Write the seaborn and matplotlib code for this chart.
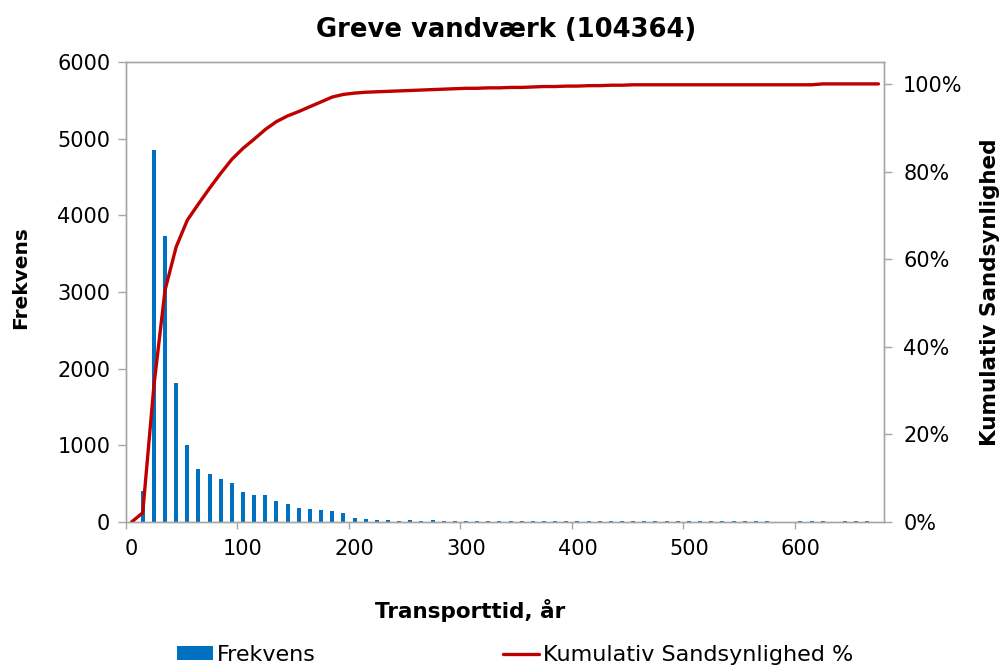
import matplotlib
matplotlib.use("Agg")
import matplotlib.pyplot as plt
from matplotlib.ticker import FixedLocator, FuncFormatter
from matplotlib.patches import Patch
from matplotlib.lines import Line2D
import seaborn as sns
import pandas as pd

# ---------------- data ----------------
transport_years = list(range(0, 680, 10))  # 0 .. 670

frekvens = [
    0, 400, 4850, 3730, 1815, 1005, 690, 620, 560, 515,
    390, 350, 350, 270, 240, 180, 170, 155, 145, 120,
    55, 35, 24, 20, 16, 24, 16, 24,
    14, 12, 15, 13, 14, 12, 14, 13, 15, 12,
    14, 13, 12, 14, 13, 12, 14, 13, 12, 14,
    13, 12, 14, 13, 12, 14, 13, 12, 14, 13,
    0, 0, 14, 13, 14, 0, 14, 13, 14, 0,
]

kumulativ_pct = [
    0.0, 2.1, 31.0, 52.9, 62.8, 68.9, 72.6, 76.2, 79.6, 82.8,
    85.3, 87.4, 89.6, 91.4, 92.7, 93.7, 94.8, 95.9, 97.0, 97.6,
    97.9, 98.1, 98.2,
    98.3, 98.4, 98.5, 98.6, 98.7, 98.8, 98.9, 99.0, 99.0, 99.1,
    99.1, 99.2, 99.2, 99.3, 99.4, 99.4, 99.5, 99.5, 99.6, 99.6,
    99.7, 99.7, 99.8,
    99.8, 99.8, 99.8, 99.8, 99.8, 99.8, 99.8, 99.8, 99.8, 99.8,
    99.8, 99.8, 99.8, 99.8, 99.8, 99.8,
    100.0, 100.0, 100.0, 100.0, 100.0, 100.0,
]

title = "Greve vandværk (104364)"
x_label = "Transporttid, år"
y_label_left = "Frekvens"
y_label_right = "Kumulativ Sandsynlighed"
legend_bar = "Frekvens"
legend_line = "Kumulativ Sandsynlighed %"

df = pd.DataFrame({"aar": transport_years, "frekvens": frekvens, "kum": kumulativ_pct})

# ---------------- style ----------------
sns.set_style("white")
plt.rcParams["font.family"] = ["DejaVu Sans"]
plt.rcParams["text.color"] = "black"
plt.rcParams["axes.labelcolor"] = "black"
plt.rcParams["xtick.color"] = "black"
plt.rcParams["ytick.color"] = "black"

BAR_BLUE = "#0070C0"
LINE_RED = "#C00000"
GRID_GRAY = "#A6A6A6"

W, H = 1005, 669
fig = plt.figure(figsize=(W / 100, H / 100), dpi=100)
left, right, top, bottom = 126, 884, 62, 522
ax = fig.add_axes([left / W, 1 - bottom / H, (right - left) / W, (bottom - top) / H])

sns.barplot(data=df, x="aar", y="frekvens", native_scale=True, width=0.36,
            color=BAR_BLUE, saturation=1, ax=ax, linewidth=0)

ax.set_xlim(-5, 675)
ax.set_ylim(0, 6000)
ax.set_yticks(range(0, 6001, 1000))
ax.xaxis.set_major_locator(FixedLocator(list(range(0, 601, 100))))
ax.xaxis.set_minor_locator(FixedLocator([-5, 95, 195, 295, 395, 495, 595]))
ax.tick_params(axis="x", which="major", length=0, labelsize=15, pad=12,
               labelcolor="black")
ax.tick_params(axis="x", which="minor", length=5, width=1, color=GRID_GRAY,
               direction="out", bottom=True)
ax.tick_params(axis="y", which="major", length=5.8, width=1, color=GRID_GRAY,
               direction="out", labelsize=15, left=True, pad=5.5, labelcolor="black")
ax.set_xlabel("")
ax.set_ylabel("")

for sp in ax.spines.values():
    sp.set_color(GRID_GRAY)
    sp.set_linewidth(1)

ax2 = ax.twinx()
sns.lineplot(data=df, x="aar", y="kum", color=LINE_RED, linewidth=2.4, ax=ax2)
ax2.set_ylim(0, 105)
ax2.set_yticks(range(0, 101, 20))
ax2.yaxis.set_major_formatter(FuncFormatter(lambda v, p: f"{v:.0f}%"))
ax2.tick_params(axis="y", length=5.8, width=1, color=GRID_GRAY, direction="out",
                labelsize=15, right=True, pad=8, labelcolor="black")
ax2.set_ylabel("")
ax2.set_xlabel("")
ax2.set_xlim(-5, 675)
for sp in ax2.spines.values():
    sp.set_color(GRID_GRAY)
    sp.set_linewidth(1)
if ax2.get_legend() is not None:
    ax2.get_legend().remove()

fig.text(506 / W, 1 - 30 / H, title, ha="center", va="center",
         fontsize=18.6, fontweight="bold")
fig.text(470 / W, 1 - 610 / H, x_label, ha="center", va="center",
         fontsize=15.5, fontweight="bold")
fig.text(21 / W, 1 - 278 / H, y_label_left, ha="center", va="center",
         rotation=90, fontsize=14.5, fontweight="bold")
fig.text(990 / W, 1 - 292 / H, y_label_right, ha="center", va="center",
         rotation=90, fontsize=15.5, fontweight="bold")

handles = [Patch(facecolor=BAR_BLUE, edgecolor="none"),
           Line2D([0], [0], color=LINE_RED, linewidth=2.4)]
fig.legend(handles, [legend_bar, legend_line], loc="center",
           bbox_to_anchor=(515 / W, 1 - 655 / H), ncol=2, frameon=False,
           fontsize=16, handlelength=1.62, handleheight=0.55, handletextpad=0.18,
           columnspacing=8.4, borderpad=0, borderaxespad=0)

fig.savefig("out.png", dpi=100)
